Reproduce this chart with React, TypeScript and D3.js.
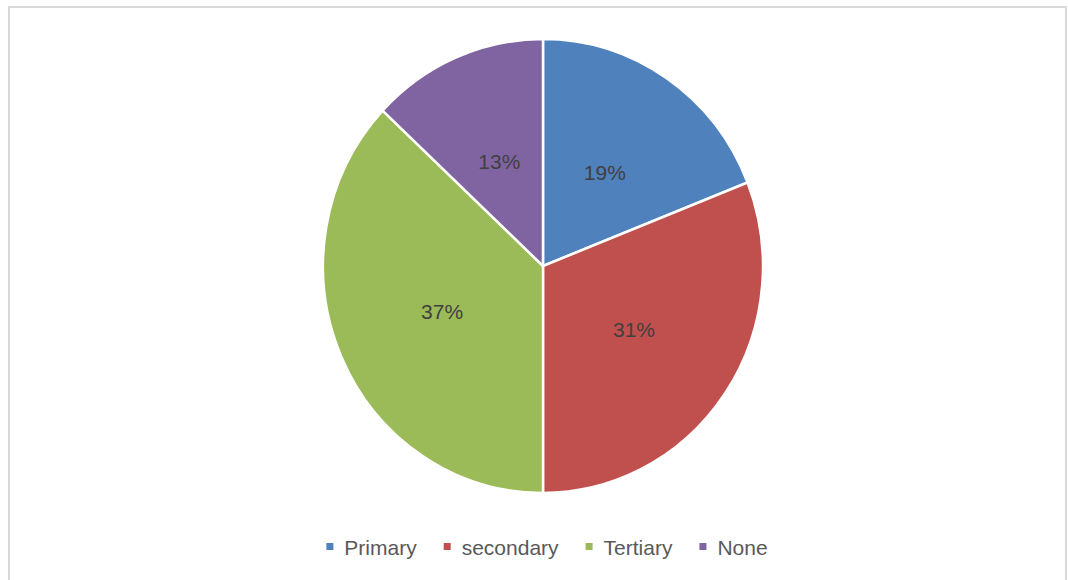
import React from "react";
import * as d3 from "d3";

const categories = ["Primary", "secondary", "Tertiary", "None"];
const values = [19, 31, 37, 13];
const labels = ["19%", "31%", "37%", "13%"];
const colors = ["#4F81BD", "#C0504D", "#9BBB59", "#8064A2"];

const W = 1068;
const H = 580;
const cx = 543;
const cy = 266;
const rx = 220;
const ry = 227;
const FONT = "'Liberation Sans', Arial, sans-serif";

function textWidth(s: string, size: number): number {
  if (typeof document === "undefined") return s.length * size * 0.5;
  const c = document.createElement("canvas").getContext("2d");
  if (!c) return s.length * size * 0.5;
  c.font = `${size}px ${FONT}`;
  return c.measureText(s).width;
}

export default function App() {
  const pie = d3.pie<number>().sort(null).value((d) => d);
  const arcs = pie(values);
  const arcGen = d3.arc<d3.PieArcDatum<number>>().innerRadius(0).outerRadius(rx);
  const sy = ry / rx;

  // legend layout
  const legendSize = 21;
  const markerW = 7;
  const markerGap = 11;
  const itemGap = 27;
  const widths = categories.map((c) => textWidth(c, legendSize));
  const total =
    widths.reduce((a, b) => a + b, 0) +
    categories.length * (markerW + markerGap) +
    (categories.length - 1) * itemGap;
  let x0 = 547 - total / 2;
  const items = categories.map((c, i) => {
    const mx = x0;
    const tx = mx + markerW + markerGap;
    x0 = tx + widths[i] + itemGap;
    return { c, mx, tx, color: colors[i] };
  });

  return (
    <svg
      width={W}
      height={H}
      style={{ position: "absolute", left: 0, top: 0, background: "#fff" }}
    >
      <rect x={0} y={0} width={W} height={H} fill="#fff" />
      <rect
        x={9}
        y={7}
        width={1057}
        height={H}
        fill="#fff"
        stroke="#d9d9d9"
        strokeWidth={2}
      />
      <g transform={`translate(${cx},${cy}) scale(1,${sy})`}>
        {arcs.map((a, i) => (
          <path
            key={i}
            d={arcGen(a) || ""}
            fill={colors[i]}
            stroke="#fff"
            strokeWidth={2.5}
            strokeLinejoin="round"
          />
        ))}
      </g>
      {arcs.map((a, i) => {
        const [px, py] = arcGen.centroid(a);
        return (
          <text
            key={i}
            x={cx + px}
            y={cy + py * sy}
            textAnchor="middle"
            dominantBaseline="central"
            fontFamily={FONT}
            fontSize={21}
            fill="#404040"
          >
            {labels[i]}
          </text>
        );
      })}
      {items.map((it, i) => (
        <g key={i}>
          <rect x={it.mx} y={543} width={markerW} height={markerW} fill={it.color} />
          <text
            x={it.tx}
            y={555}
            fontFamily={FONT}
            fontSize={legendSize}
            fill="#595959"
          >
            {it.c}
          </text>
        </g>
      ))}
    </svg>
  );
}
